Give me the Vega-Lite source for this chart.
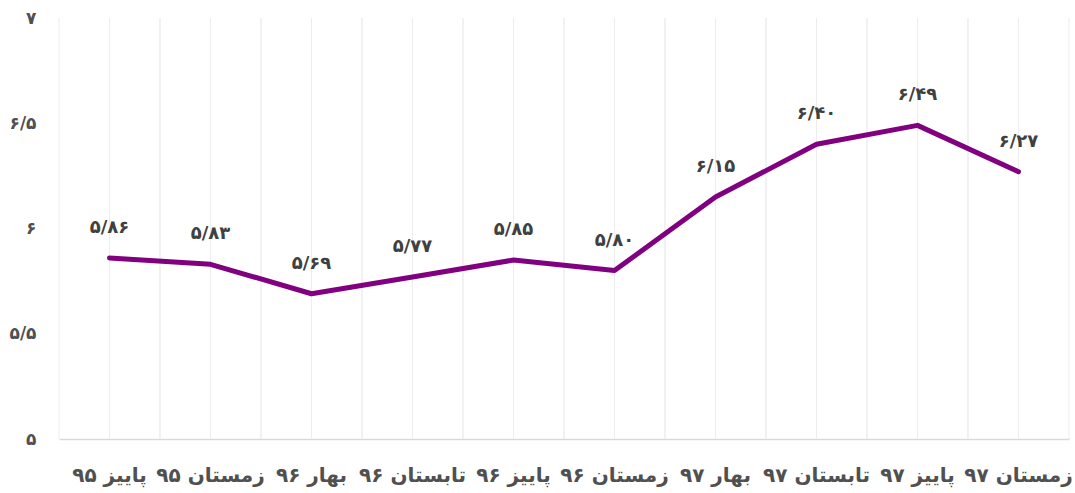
{
  "$schema": "https://vega.github.io/schema/vega-lite/v6.json",
  "autosize": {"type": "none"},
  "padding": {"left": 59, "top": 18, "right": 6, "bottom": 54},
  "width": 1010,
  "height": 421,
  "config": {"view": {"stroke": null}, "font": "DejaVu Sans"},
  "data": {"values": [
    {"q": "پاییز ۹۵", "v": 5.86, "label": "۵/۸۶"},
    {"q": "زمستان ۹۵", "v": 5.83, "label": "۵/۸۳"},
    {"q": "بهار ۹۶", "v": 5.69, "label": "۵/۶۹"},
    {"q": "تابستان ۹۶", "v": 5.77, "label": "۵/۷۷"},
    {"q": "پاییز ۹۶", "v": 5.85, "label": "۵/۸۵"},
    {"q": "زمستان ۹۶", "v": 5.80, "label": "۵/۸۰"},
    {"q": "بهار ۹۷", "v": 6.15, "label": "۶/۱۵"},
    {"q": "تابستان ۹۷", "v": 6.40, "label": "۶/۴۰"},
    {"q": "پاییز ۹۷", "v": 6.49, "label": "۶/۴۹"},
    {"q": "زمستان ۹۷", "v": 6.27, "label": "۶/۲۷"}
  ]},
  "encoding": {
    "x": {"field": "q", "type": "nominal", "sort": null,
      "scale": {"type": "band", "paddingInner": 0, "paddingOuter": 0},
      "axis": {"title": null, "labelAngle": 0, "ticks": false, "grid": false,
        "domainColor": "#d9d9d9", "domainWidth": 1.5,
        "labelFontSize": 20, "labelFontWeight": "bold", "labelColor": "#505050",
        "labelPadding": 26}}
  },
  "layer": [
    {"mark": {"type": "rule", "color": "#ededed", "strokeWidth": 1},
     "encoding": {"x": {"field": "q", "type": "nominal", "sort": null, "bandPosition": 0}}},
    {"mark": {"type": "rule", "color": "#ededed", "strokeWidth": 1},
     "encoding": {"x": {"field": "q", "type": "nominal", "sort": null, "bandPosition": 0.5}}},
    {"mark": {"type": "rule", "color": "#ededed", "strokeWidth": 1},
     "encoding": {"x": {"field": "q", "type": "nominal", "sort": null, "bandPosition": 1}}},
    {"mark": {"type": "line", "color": "#800080", "strokeWidth": 5, "strokeCap": "round", "strokeJoin": "round"},
     "encoding": {
       "y": {"field": "v", "type": "quantitative",
         "scale": {"domain": [5, 7], "nice": false, "zero": false},
         "axis": {"title": null, "values": [5, 5.5, 6, 6.5, 7], "grid": false, "domain": false, "ticks": false,
           "labelFontSize": 17, "labelFontWeight": "bold", "labelColor": "#505050", "labelPadding": 23,
           "labelExpr": "datum.value == 5 ? '۵' : datum.value == 5.5 ? '۵/۵' : datum.value == 6 ? '۶' : datum.value == 6.5 ? '۶/۵' : '۷'"}}
     }},
    {"mark": {"type": "text", "dy": -30, "fontSize": 18, "fontWeight": "bold", "color": "#404040"},
     "encoding": {
       "y": {"field": "v", "type": "quantitative"},
       "text": {"field": "label"}
     }}
  ]
}
